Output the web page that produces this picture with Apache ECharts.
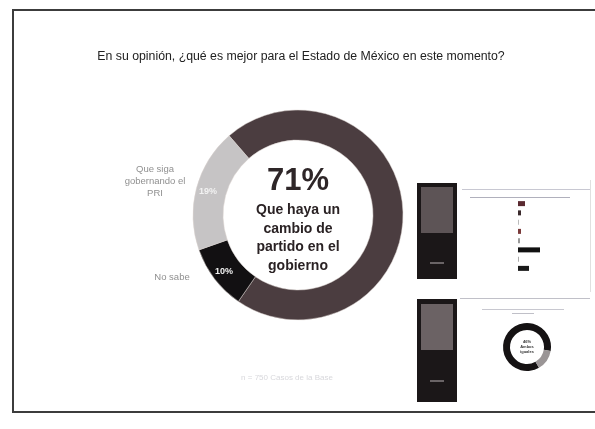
<!DOCTYPE html>
<html>
<head>
<meta charset="utf-8">
<script src="https://cdn.jsdelivr.net/npm/echarts@6/dist/echarts.min.js"></script>
<style>
html,body{margin:0;padding:0;background:#fff;}
#c{width:595px;height:429px;}
</style>
</head>
<body>
<div id="c"></div>
<script>
// ---- data ----
var titleText = 'En su opinión, ¿qué es mejor para el Estado de México en este momento?';
var categories = ['Que haya un cambio de partido en el gobierno', 'No sabe', 'Que siga gobernando el PRI'];
var values = [71, 10, 19];
var sliceColors = ['#4b3d40', '#121012', '#c6c4c5'];
var centerValue = '71%';
var centerLines = ['Que haya un', 'cambio de', 'partido en el', 'gobierno'];
var leftLabels = ['Que siga\ngobernando el\nPRI', 'No sabe'];
var footerText = 'n = 750 Casos de la Base';
// thumbnail mini chart (illegible values, estimated)
var miniBarValues = [7, 3, 1, 3, 2, 22, 1, 11];
var miniBarColors = ['#5a2a30', '#3a2a2c', '#bbb', '#7a3a3a', '#999', '#111', '#aaa', '#1a1a1a'];
var miniDonutValues = [86, 14];
var miniDonutText = ['46%', 'Ambos', 'iguales'];

var chart = echarts.init(document.getElementById('c'), null, {renderer: 'canvas'});

var pieData = categories.map(function (n, i) {
  return {name: n, value: values[i], itemStyle: {color: sliceColors[i]}};
});
var rowIdx = miniBarValues.map(function (v, i) { return String(i + 1); });

var option = {
  backgroundColor: '#ffffff',
  animation: false,
  title: {
    text: titleText,
    left: 296, top: 46, textAlign: 'center',
    textStyle: {fontFamily: 'Liberation Sans', fontSize: 12.3, fontWeight: 'normal', color: '#222'}
  },
  grid: {left: 518, top: 199, width: 25, height: 74, containLabel: false},
  xAxis: {type: 'value', min: 0, max: 25, show: false},
  yAxis: {type: 'category', data: rowIdx, inverse: true, show: false},
  series: [
    {
      type: 'pie',
      center: [298, 215],
      radius: [75, 105],
      startAngle: 131,
      clockwise: true,
      silent: true,
      itemStyle: {borderColor: '#d8d0cc', borderWidth: 0.5},
      label: {
        show: true, position: 'inside',
        formatter: function (p) { return p.dataIndex === 0 ? '' : p.value + '%'; },
        color: '#f2f2f2', fontFamily: 'Liberation Sans', fontSize: 9, fontWeight: 'bold'
      },
      labelLine: {show: false},
      data: pieData
    },
    {
      type: 'bar',
      barWidth: 5,
      silent: true,
      data: miniBarValues.map(function (v, i) { return {value: v, itemStyle: {color: miniBarColors[i]}}; })
    },
    {
      type: 'pie',
      center: [527, 347],
      radius: [17, 24],
      startAngle: 300,
      silent: true,
      label: {show: false},
      labelLine: {show: false},
      data: miniDonutValues.map(function (v, i) {
        return {value: v, itemStyle: {color: i === 0 ? '#151213' : '#9a9596'}};
      })
    }
  ],
  graphic: [
    // frame
    {type: 'rect', shape: {x: 13, y: 10, width: 600, height: 402}, style: {fill: 'none', stroke: '#3c3c3c', lineWidth: 2}, z: 10},
    // center text
    {type: 'text', x: 298, y: 181, style: {text: centerValue, textAlign: 'center', textVerticalAlign: 'middle', fontFamily: 'Liberation Sans', fontSize: 31, fontWeight: 'bold', fill: '#2e2628'}},
    {type: 'text', x: 298, y: 238, style: {text: centerLines.join('\n'), textAlign: 'center', textVerticalAlign: 'middle', fontFamily: 'Liberation Sans', fontSize: 14, fontWeight: 'bold', lineHeight: 18.5, fill: '#2a2224'}},
    // outer labels
    {type: 'text', x: 155, y: 181, style: {text: leftLabels[0], textAlign: 'center', textVerticalAlign: 'middle', fontFamily: 'Liberation Sans', fontSize: 9.5, lineHeight: 12, fill: '#909090'}},
    {type: 'text', x: 172, y: 277, style: {text: leftLabels[1], textAlign: 'center', textVerticalAlign: 'middle', fontFamily: 'Liberation Sans', fontSize: 9.5, fill: '#909090'}},
    // footer
    {type: 'text', x: 287, y: 378, style: {text: footerText, textAlign: 'center', textVerticalAlign: 'middle', fontFamily: 'Liberation Sans', fontSize: 8, fill: '#d8d8dc'}},
    // thumbnail 1
    {type: 'rect', shape: {x: 417, y: 183, width: 40, height: 96}, style: {fill: '#1b1718'}},
    {type: 'rect', shape: {x: 421, y: 187, width: 32, height: 46}, style: {fill: '#5d5456'}},
    {type: 'rect', shape: {x: 430, y: 262, width: 14, height: 2}, style: {fill: '#6a6466'}},
    {type: 'rect', shape: {x: 462, y: 189, width: 128, height: 1}, style: {fill: '#c8c8d2'}},
    {type: 'rect', shape: {x: 470, y: 197, width: 100, height: 1}, style: {fill: '#b0b0bc'}},
    {type: 'rect', shape: {x: 590, y: 180, width: 1, height: 112}, style: {fill: '#e0e0e0'}},
    // thumbnail 2
    {type: 'rect', shape: {x: 417, y: 299, width: 40, height: 103}, style: {fill: '#1b1718'}},
    {type: 'rect', shape: {x: 421, y: 304, width: 32, height: 46}, style: {fill: '#6b6264'}},
    {type: 'rect', shape: {x: 430, y: 380, width: 14, height: 2}, style: {fill: '#6a6466'}},
    {type: 'rect', shape: {x: 460, y: 298, width: 130, height: 1}, style: {fill: '#c0c0c8'}},
    {type: 'rect', shape: {x: 482, y: 309, width: 82, height: 1}, style: {fill: '#c8c8d0'}},
    {type: 'rect', shape: {x: 512, y: 313, width: 22, height: 1}, style: {fill: '#c0c0c8'}},
    {type: 'text', x: 527, y: 347, style: {text: miniDonutText.join('\n'), textAlign: 'center', textVerticalAlign: 'middle', fontFamily: 'Liberation Sans', fontSize: 4, fontWeight: 'bold', lineHeight: 5, fill: '#333'}}
  ]
};
chart.setOption(option);
</script>
</body>
</html>
